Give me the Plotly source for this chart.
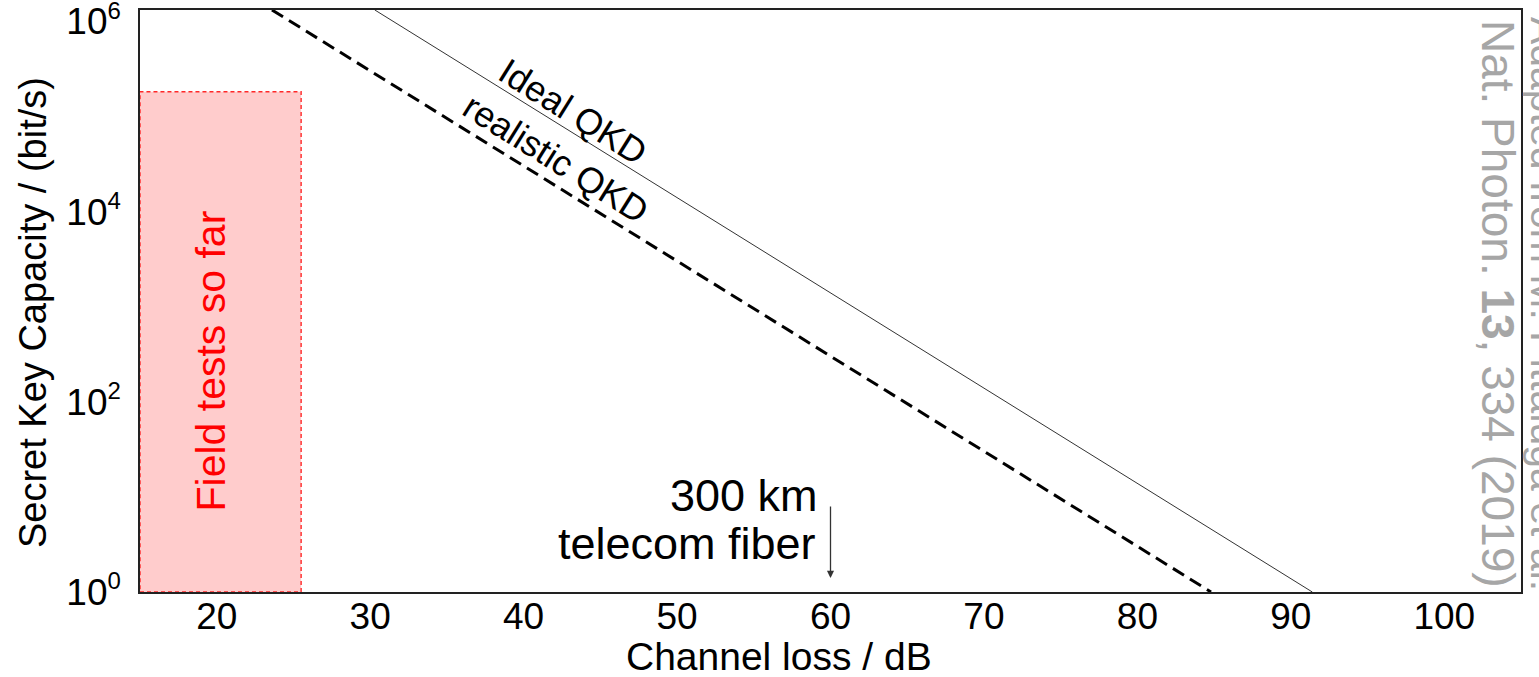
import plotly.graph_objects as go

# ---- data ----
x_range = [15, 105]            # channel loss (dB)
y_range_log = [0, 6.12]        # log10 of capacity

ideal_loss = [30.3, 91.4]
ideal_capacity = [1.32e6, 1.0]

realistic_loss = [23.6, 84.8]
realistic_capacity = [1.32e6, 1.0]

field_loss = [15, 25.5, 25.5, 15, 15]
field_capacity = [1.0, 1.0, 1.82e5, 1.82e5, 1.0]

x_tickvals = [20, 30, 40, 50, 60, 70, 80, 90, 100]
y_tickvals = [1, 1e2, 1e4, 1e6]
y_exponents = ["0", "2", "4", "6"]
y_ticktext = ["10<sup><span style='font-size:24px'>%s</span></sup>" % e for e in y_exponents]

fiber_loss_300km = 60

x_title = "Channel loss / dB"
y_title = "Secret Key Capacity / (bit/s)"

FONT = "Arial, Liberation Sans, sans-serif"

fig = go.Figure()

fig.add_trace(go.Scatter(
    x=field_loss, y=field_capacity, mode="lines", fill="toself",
    fillcolor="rgba(255,0,0,0.2)",
    line=dict(color="rgba(255,40,40,1)", width=1.4, dash="4px,3px"),
    hoverinfo="skip", showlegend=False))

fig.add_trace(go.Scatter(
    x=ideal_loss, y=ideal_capacity, mode="lines",
    line=dict(color="#333333", width=1), showlegend=False))

fig.add_trace(go.Scatter(
    x=realistic_loss, y=realistic_capacity, mode="lines",
    line=dict(color="#000000", width=3, dash="13px,7px"), showlegend=False))

annotations = [
    dict(x=19.6, y=2.43, xref="x", yref="y", text="Field tests so far",
         textangle=-90, showarrow=False, font=dict(family=FONT, size=41, color="#ff0000")),
    dict(x=43.2, y=5.05, xref="x", yref="y", text="Ideal QKD",
         textangle=32, showarrow=False, font=dict(family=FONT, size=36, color="#000000")),
    dict(x=42.1, y=4.56, xref="x", yref="y", text="realistic QKD",
         textangle=32, showarrow=False, font=dict(family=FONT, size=36, color="#000000")),
    dict(x=59.3, y=1.01, xref="x", yref="y", text="300 km", xanchor="right",
         showarrow=False, font=dict(family=FONT, size=45, color="#000000")),
    dict(x=59.2, y=0.505, xref="x", yref="y", text="telecom fiber", xanchor="right",
         showarrow=False, font=dict(family=FONT, size=45, color="#000000")),
    dict(x=fiber_loss_300km, y=0.147, xref="x", yref="y", text="", showarrow=True,
         ax=0, ay=-73, arrowhead=2, arrowsize=1.1, arrowwidth=1.3, arrowcolor="#333333"),
    dict(x=1.0036, y=0.495, xref="paper", yref="paper",
         text="Nat. Photon. <b>13</b>, 334 (2019)", textangle=90, showarrow=False,
         font=dict(family=FONT, size=46, color="#a6a6a6")),
    dict(x=1.0355, y=0.495, xref="paper", yref="paper",
         text="Adapted from M. Pittaluga et al.", textangle=90, showarrow=False,
         font=dict(family=FONT, size=41, color="#a6a6a6")),
    dict(x=0.4627, y=-0.1115, xref="paper", yref="paper", text=x_title,
         xanchor="center", yanchor="middle", showarrow=False,
         font=dict(family=FONT, size=39, color="#000000")),
    dict(x=-0.0775, y=0.481, xref="paper", yref="paper", text=y_title,
         textangle=-90, xanchor="center", yanchor="middle", showarrow=False,
         font=dict(family=FONT, size=38, color="#000000")),
]

fig.update_layout(
    width=1539, height=677,
    margin=dict(l=140, r=18, t=10, b=85, autoexpand=False),
    paper_bgcolor="white", plot_bgcolor="white",
    font=dict(family=FONT, color="#000000"),
    annotations=annotations,
    showlegend=False,
)

fig.update_xaxes(
    range=x_range, tickvals=x_tickvals,
    showgrid=False, zeroline=False, automargin=False,
    showline=True, linecolor="#222222", linewidth=1.5, mirror=True,
    ticks="outside", ticklen=4, tickcolor="rgba(0,0,0,0)",
    ticklabelstandoff=-13,
    ticklabeloverflow="allow",
    tickfont=dict(family=FONT, size=37, color="#000000"),
)
fig.update_yaxes(
    type="log", range=y_range_log, tickvals=y_tickvals, ticktext=y_ticktext,
    showgrid=False, zeroline=False, automargin=False,
    showline=True, linecolor="#222222", linewidth=1.5, mirror=True,
    ticks="outside", ticklen=10, tickcolor="rgba(0,0,0,0)",
    ticklabeloverflow="allow",
    tickfont=dict(family=FONT, size=37, color="#000000"),
)

fig.write_html("out.html")
